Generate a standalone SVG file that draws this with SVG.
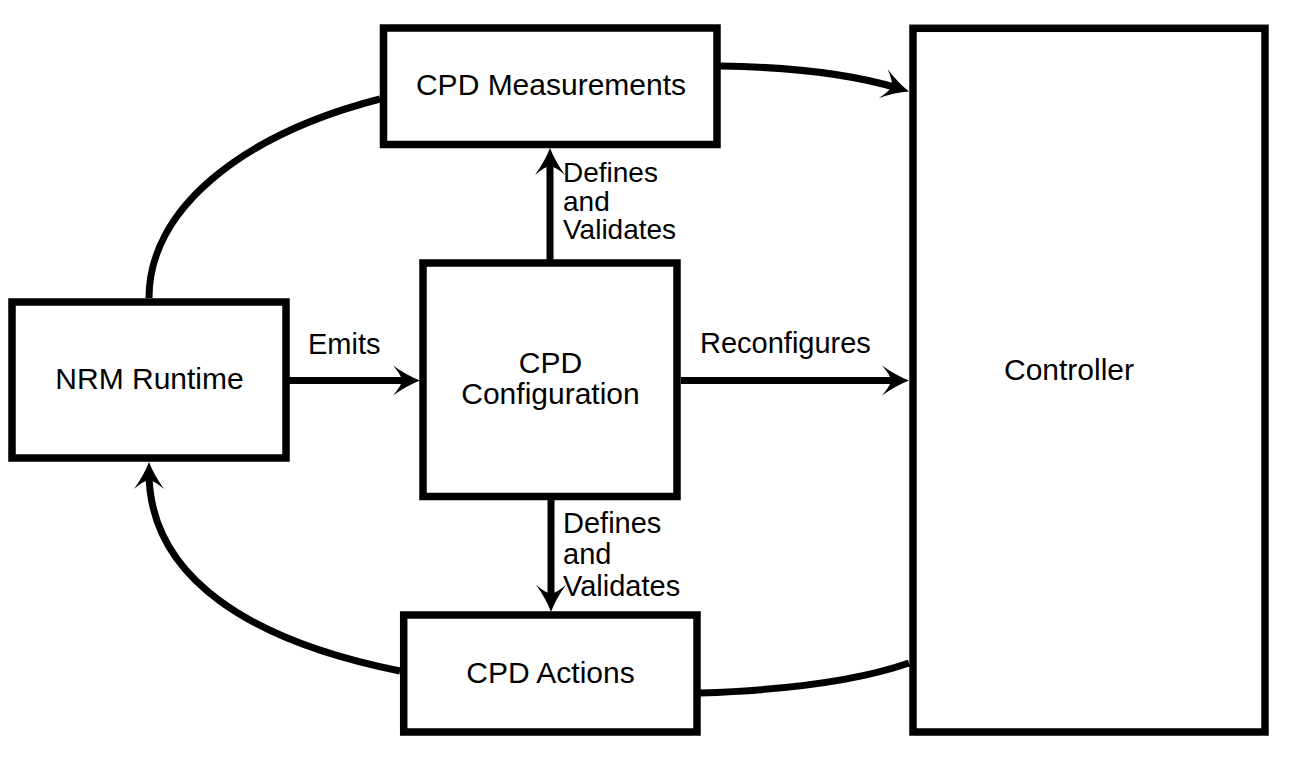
<svg xmlns="http://www.w3.org/2000/svg" width="1311" height="767" viewBox="0 0 1311 767">
<style>
.box{fill:#fff;stroke:#000;stroke-width:7.5}
.conn{fill:none;stroke:#000;stroke-width:7}
.lbl{font-family:"Liberation Sans",Arial,sans-serif;font-size:30px;fill:#000}
.elbl{font-family:"Liberation Sans",Arial,sans-serif;font-size:29px;fill:#000}
.tlbl{font-family:"Liberation Sans",Arial,sans-serif;font-size:28px;fill:#000}
</style>
<defs>
<marker id="arr" markerUnits="userSpaceOnUse" viewBox="-20 -16 32 32" refX="0" refY="0" markerWidth="32" markerHeight="32" orient="auto">
<path d="M10,0 Q-3,-5 -17,-15 Q-9,-6 -8,0 Q-9,6 -17,15 Q-3,5 10,0 Z" fill="#000"/>
</marker>
</defs>
<rect width="1311" height="767" fill="#fff"/>
<g id="connectors">
<path class="conn" d="M149,298 C149,210 240,135 380,99"/>
<path class="conn" d="M720,66 C790,67 852,74 899.5,88.6" marker-end="url(#arr)"/>
<path class="conn" d="M700,693 C790,690 860,680 909,663"/>
<path class="conn" d="M400,671 C255,642 149,580 149,472" marker-end="url(#arr)"/>
<path class="conn" d="M289,380.5 L410,380.5" marker-end="url(#arr)"/>
<path class="conn" d="M681,380.5 L899,380.5" marker-end="url(#arr)"/>
<path class="conn" d="M550,263 L550,158" marker-end="url(#arr)"/>
<path class="conn" d="M551,500 L551,601.7" marker-end="url(#arr)"/>
<text class="elbl" x="308" y="354">Emits</text>
<text class="elbl" x="700" y="353">Reconfigures</text>
<text class="tlbl" x="563" y="182">Defines</text>
<text class="tlbl" x="563" y="210.5">and</text>
<text class="tlbl" x="563" y="239">Validates</text>
<text class="elbl" x="563" y="533">Defines</text>
<text class="elbl" x="563" y="564">and</text>
<text class="elbl" x="563" y="596">Validates</text>
</g>
<g id="nrm">
<rect class="box" x="12" y="302" width="274" height="156"/>
<text class="lbl" x="149.5" y="389" text-anchor="middle">NRM Runtime</text>
</g>
<g id="measurements">
<rect class="box" x="383.5" y="28" width="333.5" height="116.5"/>
<text class="lbl" x="551" y="95" text-anchor="middle">CPD Measurements</text>
</g>
<g id="configuration">
<rect class="box" x="423" y="263" width="254" height="233.5"/>
<text class="lbl" x="550.5" y="372.7" text-anchor="middle">CPD</text>
<text class="lbl" x="550.5" y="404" text-anchor="middle">Configuration</text>
</g>
<g id="actions">
<rect class="box" x="403.7" y="615" width="293.3" height="117"/>
<text class="lbl" x="550.5" y="682.7" text-anchor="middle">CPD Actions</text>
</g>
<g id="controller">
<rect class="box" x="913" y="28.3" width="352" height="703.7"/>
<text class="lbl" x="1069" y="380" text-anchor="middle">Controller</text>
</g>
</svg>
